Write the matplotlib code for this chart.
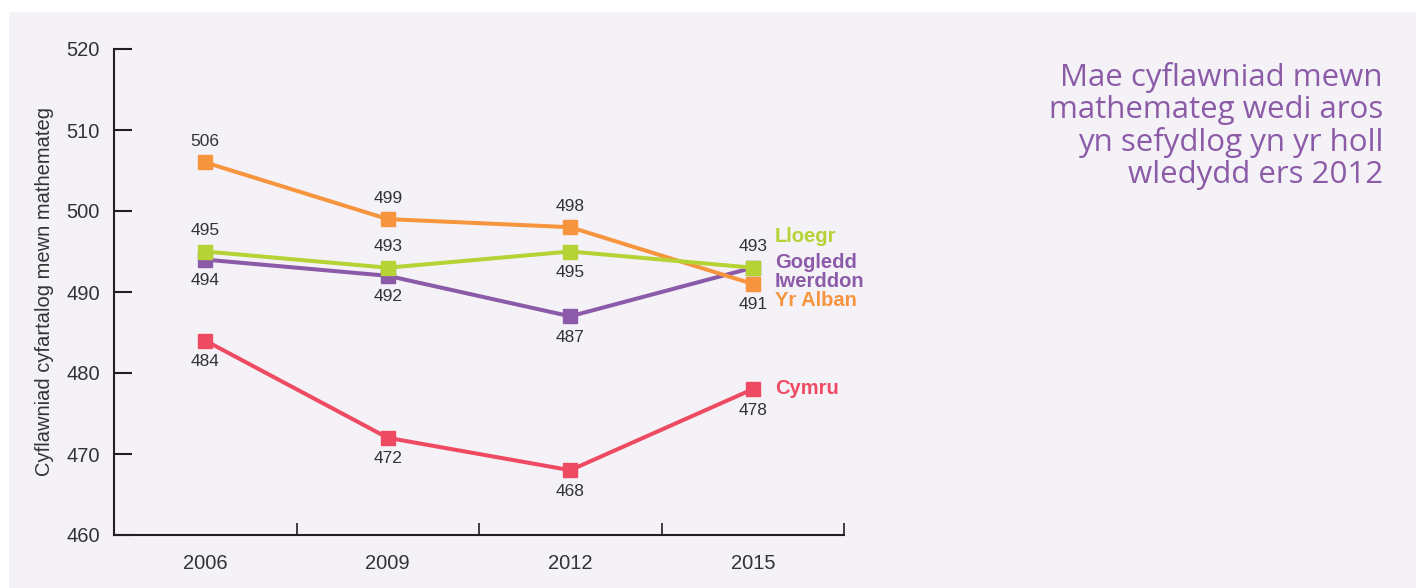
import numpy as np
import matplotlib
matplotlib.use("Agg")
import matplotlib.pyplot as plt
from matplotlib.patches import Rectangle

plt.rcParams['font.family'] = ['Liberation Sans', 'DejaVu Sans']

years = ["2006", "2009", "2012", "2015"]
lloegr = [495, 493, 495, 493]
gogledd_iwerddon = [494, 492, 487, 493]
yr_alban = [506, 499, 498, 491]
cymru = [484, 472, 468, 478]

# label placement per point: +1 above, -1 below, 0 none
lloegr_pos = [1, 1, -1, 1]
gi_pos = [-1, -1, -1, 0]
alban_pos = [1, 1, 1, -1]
cymru_pos = [-1, -1, -1, -1]

series_names = ["Cymru", "Gogledd\nIwerddon", "Yr Alban", "Lloegr"]
colors = {"Lloegr": "#b5d334", "Gogledd\nIwerddon": "#8b5aa8",
          "Yr Alban": "#f7943e", "Cymru": "#ee4b63"}

title = "Mae cyflawniad mewn\nmathemateg wedi aros\nyn sefydlog yn yr holl\nwledydd ers 2012"
ylabel = "Cyflawniad cyfartalog mewn mathemateg"

fig = plt.figure(figsize=(14.16, 5.88), dpi=100)
fig.patches.append(Rectangle((9 / 1416, 0), 1, 1 - 12 / 588, transform=fig.transFigure,
                             facecolor="#f4f2f7", edgecolor="none", zorder=-10))
ax = fig.add_axes([114 / 1416, 53 / 588, 730 / 1416, 486 / 588])
ax.set_facecolor("none")

x = np.arange(len(years))
data = {"Cymru": (cymru, cymru_pos), "Gogledd\nIwerddon": (gogledd_iwerddon, gi_pos),
        "Yr Alban": (yr_alban, alban_pos), "Lloegr": (lloegr, lloegr_pos)}

for i, name in enumerate(series_names):
    vals, pos = data[name]
    ax.plot(x, vals, color=colors[name], lw=2.9, marker="s", ms=9.5,
            zorder=3 + i, clip_on=False)
    for xi, v, p in zip(x, vals, pos):
        if p == 0:
            continue
        ax.annotate(str(v), (xi, v), xytext=(0, 15 * p), textcoords="offset points",
                    ha="center", va="center", fontsize=12.5, color="#333333")

# series names at the right end
name_y = {"Lloegr": 496.8, "Gogledd\nIwerddon": 492.5, "Yr Alban": 488.9, "Cymru": 478.1}
for name in series_names:
    ax.text(3.12, name_y[name], name, color=colors[name], fontsize=14.5,
            fontweight="bold", ha="left", va="center", linespacing=1.0)

ax.set_xlim(-0.5, 3.5)
ax.set_ylim(460, 520)
ax.set_yticks(np.arange(460, 521, 10))
ax.set_xticks(x)
ax.set_xticklabels(years)
ax.set_xticks(np.arange(0.5, 3.6, 1), minor=True)

for s in ["top", "right"]:
    ax.spines[s].set_visible(False)
for s in ["left", "bottom"]:
    ax.spines[s].set_color("#231f20")
    ax.spines[s].set_linewidth(1.5)

ax.tick_params(axis="y", direction="in", length=13, width=1.5, color="#231f20",
               labelsize=14.5, labelcolor="#333333", pad=10)
ax.tick_params(axis="x", which="major", length=0, labelsize=14.5,
               labelcolor="#333333", pad=14)
ax.tick_params(axis="x", which="minor", direction="in", length=9, width=1.2,
               color="#231f20")

ax.set_ylabel(ylabel, fontsize=14.5, color="#333333", labelpad=9)

fig.text(1383 / 1416, 1 - 62 / 588, title, ha="right", va="top", fontsize=22.5,
         color="#8c5ba8", family="Open Sans", fontweight="medium", linespacing=1.08)

fig.savefig("out.png", dpi=100, facecolor="white")
